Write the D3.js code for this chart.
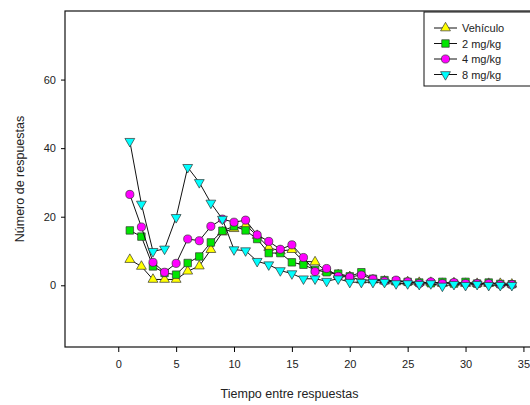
<!DOCTYPE html>
<html>
<head>
<meta charset="utf-8">
<script src="https://cdn.jsdelivr.net/npm/d3@7"></script>
<style>
  body { margin: 0; background: #fff; }
  text { font-family: "Liberation Sans", Arial, sans-serif; fill: #222; }
</style>
</head>
<body>
<svg id="chart" width="530" height="405"></svg>
<script>
const WIDTH = 530
const HEIGHT = 405
const FRAME = { left: 65, top: 11, bottom: 347, right: 535 }

// tiempo entre respuestas (1..34)
const tiempos = d3.range(1, 35)
const xTicks = [0, 5, 10, 15, 20, 25, 30, 35]
const yTicks = [0, 20, 40, 60]

const vehiculo = [7.5, 5.5, 1.7, 1.7, 1.7, 4.1, 5.6, 10.4, 15.5, 16.5, 17.5, 14.5, 11, 10, 10.4, 7, 6.8, 4, 3, 2.5,
  1.5, 1.5, 1.2, 1, 1, 0.8, 0.8, 0.5, 0.7, 0.5, 0.5, 0.5, 0.5, 0.3]
const mg2 = [16, 14.2, 5.5, 3.6, 3.1, 6.5, 8.4, 12.5, 15.9, 17.2, 16, 13.5, 9.4, 9.4, 6.7, 6, 4.5, 3.8, 3.4, 2.6,
  3.8, 1.9, 1.5, 1.2, 1, 0.8, 0.6, 1, 0.5, 1, 0.5, 0.8, 0.4, 0.3]
const mg4 = [26.5, 17, 6.7, 3.8, 6.4, 13.5, 13, 17.2, 19.3, 18.4, 19, 14.7, 12.8, 10.5, 11.8, 8.1, 4, 4.9, 2.6, 2.4,
  3, 1.8, 1.2, 1.5, 1, 0.5, 1, 0.5, 0.8, 0.5, 0.5, 0.5, 0.2, 0.2]
const mg8 = [42, 23.7, 9.9, 10.6, 19.8, 34.4, 30, 24, 19.3, 10.4, 10.1, 7, 6, 4.3, 3.4, 1.9, 1.9, 1.2, 1.9, 0.9,
  0.9, 0.9, 0.9, 0.5, 0.5, 0.3, 0.5, -0.2, 0.3, 0, 0.3, 0, 0, 0]

const seriesNames = ['Vehículo', '2 mg/kg', '4 mg/kg', '8 mg/kg']
const seriesValues = [vehiculo, mg2, mg4, mg8]
const seriesColors = ['#ffff00', '#00e600', '#ff00ff', '#00ffff']
const seriesSymbols = ['up', 'square', 'circle', 'down']

const x = d3.scaleLinear().domain([-4.6, 36]).range([FRAME.left, FRAME.right])
const y = d3.scaleLinear().domain([-18, 80]).range([FRAME.bottom, FRAME.top])

const svg = d3.select('#chart')

// symbol shapes
const symbolPath = kind => {
  if (kind === 'up' || kind === 'down') return d3.symbol(d3.symbolTriangle, 42)()
  if (kind === 'square') return d3.symbol(d3.symbolSquare, 56)()
  return d3.symbol(d3.symbolCircle, 52)()
}
const drawSymbol = (sel, kind, color) => sel.append('path')
  .attr('d', symbolPath(kind))
  .attr('transform', d => `translate(${d[0]},${d[1]})` + (kind === 'down' ? ' rotate(180)' : ''))
  .attr('fill', color)
  .attr('stroke', '#333')
  .attr('stroke-width', 0.7)

// frame
svg.append('rect')
  .attr('x', FRAME.left).attr('y', FRAME.top)
  .attr('width', FRAME.right - FRAME.left)
  .attr('height', FRAME.bottom - FRAME.top)
  .attr('fill', 'none').attr('stroke', '#111').attr('stroke-width', 1.2)

// y axis
const yAxis = svg.append('g')
  .attr('transform', `translate(${FRAME.left},0)`)
  .call(d3.axisLeft(y).tickValues(yTicks).tickSize(4).tickPadding(5))
yAxis.select('.domain').remove()
yAxis.selectAll('text').style('font-size', '11px').attr('fill', '#222')

// x axis
const xAxis = svg.append('g')
  .attr('transform', `translate(0,${FRAME.bottom})`)
  .call(d3.axisBottom(x).tickValues(xTicks).tickSize(5).tickPadding(8))
xAxis.select('.domain').remove()
xAxis.selectAll('text').style('font-size', '11px').attr('fill', '#222')

// axis titles
svg.append('text')
  .attr('x', (FRAME.left + 530) / 2 - 8).attr('y', 398)
  .attr('text-anchor', 'middle').style('font-size', '12.5px')
  .text('Tiempo entre respuestas')
svg.append('text')
  .attr('transform', `translate(24,${(FRAME.top + FRAME.bottom) / 2}) rotate(-90)`)
  .attr('text-anchor', 'middle').style('font-size', '12.5px')
  .text('Número de respuestas')

// series
const line = d3.line()
seriesValues.forEach((vals, i) => {
  const pts = vals.map((v, j) => [x(tiempos[j]), y(v)])
  svg.append('path')
    .attr('d', line(pts))
    .attr('fill', 'none').attr('stroke', '#111').attr('stroke-width', 1)
  const g = svg.append('g').selectAll('g').data(pts).enter()
  drawSymbol(g, seriesSymbols[i], seriesColors[i])
})

// legend
const legend = svg.append('g')
legend.append('rect')
  .attr('x', 424).attr('y', 12).attr('width', 110).attr('height', 74)
  .attr('fill', '#fff').attr('stroke', '#111').attr('stroke-width', 1)
seriesNames.forEach((name, i) => {
  const ly = 28 + i * 15.5
  legend.append('line')
    .attr('x1', 434).attr('x2', 457).attr('y1', ly).attr('y2', ly)
    .attr('stroke', '#111').attr('stroke-width', 1)
  drawSymbol(legend.append('g').selectAll('g').data([[445.5, ly]]).enter(), seriesSymbols[i], seriesColors[i])
  legend.append('text')
    .attr('x', 462).attr('y', ly + 4)
    .style('font-size', '11px')
    .text(name)
})
</script>
</body>
</html>
